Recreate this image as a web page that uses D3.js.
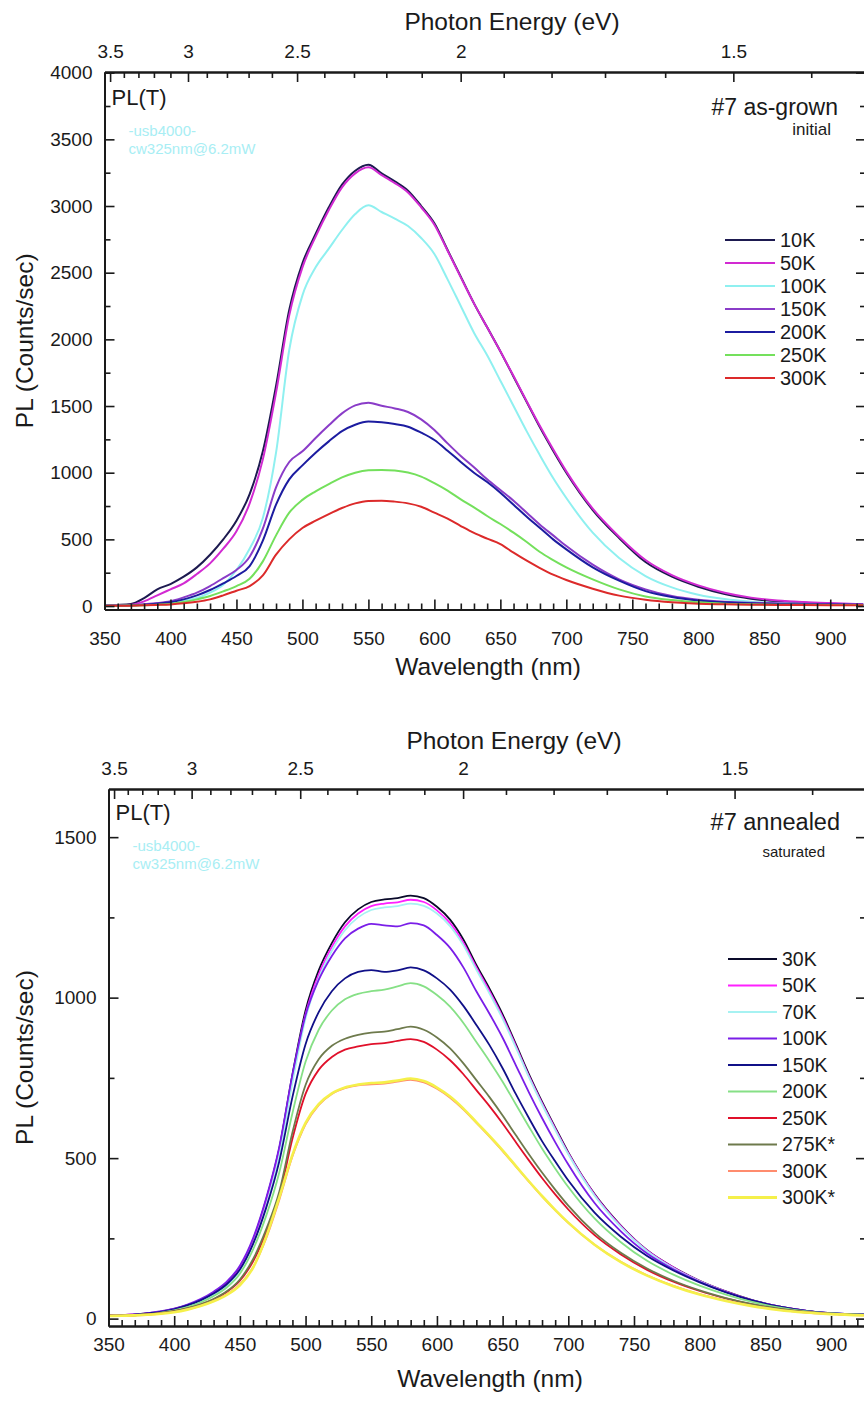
<!DOCTYPE html>
<html>
<head>
<meta charset="utf-8">
<script src="https://cdn.jsdelivr.net/npm/d3@7"></script>
<style>
  body { margin: 0; background: #fff; }
  text { font-family: "Liberation Sans", Arial, sans-serif; fill: #1a1a1a; }
</style>
</head>
<body>
<script>
// shared wavelength grid (nm)
var wavelength = [350,360,370,380,390,400,410,420,430,440,450,460,470,480,490,500,510,520,530,540,
  550,560,570,580,590,600,610,620,630,640,650,660,670,680,690,700,720,740,760,780,800,820,840,860,880,900,925];

var nmTicks = [350,400,450,500,550,600,650,700,750,800,850,900];
var energyMajor = [3.5,3,2.5,2,1.5];
var energyMinor = [3.4,3.3,3.2,3.1,2.9,2.8,2.7,2.6,2.4,2.3,2.2,2.1,1.9,1.8,1.7,1.6,1.4];

// #7 as-grown
var topLabels = ["10K","50K","100K","150K","200K","250K","300K"];
var topColors = ["#1d1a50","#d22ad2","#8ff0f0","#8a3cc8","#1c1ca0","#74e05c","#dc2a2a"];
var pl10K  = [5,8,15,60,125,165,220,290,385,500,640,840,1160,1650,2220,2570,2790,2990,3160,3265,3310,3245,3185,3115,3000,2870,2670,2470,2270,2090,1910,1720,1530,1340,1165,1000,720,510,330,220,145,90,55,35,24,16,10];
var pl50K  = [3,5,10,35,80,125,170,240,320,430,560,770,1100,1600,2180,2540,2770,2970,3140,3245,3290,3232,3172,3102,2990,2860,2665,2465,2270,2090,1910,1725,1535,1350,1175,1010,730,520,345,232,155,100,63,42,30,22,14];
var pl100K = [2,3,5,8,13,22,40,60,100,160,270,430,660,1150,1920,2330,2540,2680,2820,2940,3005,2955,2905,2850,2760,2640,2450,2250,2050,1880,1690,1500,1310,1130,960,810,550,360,225,140,85,52,33,22,15,11,8];
var pl150K = [2,4,8,14,22,36,65,100,150,210,270,370,580,890,1080,1160,1260,1355,1445,1505,1525,1502,1482,1455,1400,1320,1220,1125,1040,950,870,790,700,610,530,450,310,200,125,75,48,33,25,20,17,15,12];
var pl200K = [2,3,6,10,18,28,50,80,120,170,225,300,490,760,950,1055,1150,1235,1312,1360,1384,1378,1365,1345,1300,1245,1165,1080,1000,930,850,760,670,585,500,425,290,190,112,68,42,28,20,16,13,11,9];
var pl250K = [2,2,4,6,10,16,30,50,75,110,150,205,335,530,700,796,860,915,965,1000,1018,1021,1016,1001,971,921,865,800,740,675,615,550,480,405,345,290,200,125,72,45,28,18,13,10,9,8,7];
var pl300K = [1,2,3,5,8,12,20,32,50,80,115,150,230,385,500,585,640,690,735,770,788,790,783,770,745,700,655,600,548,505,465,400,340,285,235,195,130,78,47,28,17,13,10,8,7,6,5];

// #7 annealed
var botLabels = ["30K","50K","70K","100K","150K","200K","250K","275K*","300K","300K*"];
var botColors = ["#0a0a2a","#ff20ff","#a6f2f2","#7a1ee8","#101088","#86e086","#e0102a","#6e7a4c","#ff8c6e","#f5f04a"];
var b30K   = [10,11,13,17,22,30,42,58,80,110,160,245,370,530,760,960,1085,1170,1235,1275,1298,1306,1310,1318,1310,1283,1243,1182,1102,1028,948,856,762,676,596,518,388,290,213,160,118,85,58,38,25,16,12];
var b50K   = [10,11,13,16,21,29,41,56,78,107,156,240,362,520,748,948,1072,1158,1222,1262,1285,1293,1297,1305,1298,1272,1232,1172,1094,1020,940,850,756,671,592,515,386,288,212,159,117,84,57,38,25,16,12];
var b70K   = [10,11,12,15,20,27,38,53,74,102,150,232,352,508,735,935,1060,1146,1210,1250,1273,1281,1285,1293,1286,1262,1223,1164,1087,1013,934,845,752,667,588,512,383,285,210,157,116,83,56,37,24,16,12];
var b100K  = [10,11,13,17,23,31,44,61,84,115,165,250,375,535,760,945,1055,1130,1185,1215,1230,1225,1222,1232,1225,1195,1155,1095,1020,950,875,790,705,625,550,480,360,272,203,154,115,83,57,38,25,17,13];
var b150K  = [9,10,12,16,21,29,41,57,78,107,153,232,345,490,690,855,955,1020,1060,1080,1086,1080,1085,1094,1085,1060,1025,975,915,852,780,700,625,553,490,430,330,255,195,150,113,82,57,38,25,17,13];
var b200K  = [9,10,11,14,19,26,36,50,70,97,140,215,320,455,640,800,900,960,995,1012,1020,1025,1035,1045,1035,1008,972,922,862,802,738,668,598,530,468,410,312,238,180,137,103,75,52,35,23,16,12];
var b250K  = [9,9,10,13,17,23,32,44,60,83,118,178,268,382,560,700,775,815,838,848,855,858,865,871,862,838,805,762,712,662,608,550,493,438,387,340,260,200,152,115,86,63,44,30,21,15,11];
var b275Ks = [9,9,10,13,17,23,32,44,61,85,122,185,278,395,580,728,808,850,872,884,891,894,902,910,900,876,842,796,743,690,633,572,512,455,402,352,268,205,156,118,88,64,45,31,21,15,11];
var b300K  = [9,9,10,12,16,21,29,40,55,76,107,160,250,370,505,605,665,700,718,727,730,732,738,744,736,716,688,652,610,567,522,474,427,381,338,298,230,177,135,102,76,56,40,28,19,14,10];
var b300Ks = [8,9,10,12,15,20,28,39,54,74,104,158,255,378,510,610,668,702,720,729,734,736,742,748,740,720,692,655,612,569,524,476,428,382,339,299,230,176,134,101,75,55,39,27,19,14,10];

var svg = d3.select("body").append("svg")
  .attr("width", 864)
  .attr("height", 1401);

svg.append("rect").attr("width", 864).attr("height", 1401).attr("fill", "#fff");

drawPanel({
  id: "p1", left: 104.5, right: 866, top: 72, bottom: 609.5,
  xMax: 927.1, yMin: -26, yMax: 4005, yStep: 500,
  series: [pl10K, pl50K, pl100K, pl150K, pl200K, pl250K, pl300K],
  labels: topLabels, colors: topColors, width: 2,
  nmLabelY: 645, nmTitleY: 675, evLabelY: 58, evTitleY: 30,
  titleX: 488, evTitleX: 512,
  legend: { x1: 725, x2: 775, y0: 240, dy: 23, size: 20 },
  sample: "#7 as-grown", sampleX: 838, sampleY: 115, sampleSize: 23,
  note: "initial", noteX: 831, noteY: 135, noteSize: 17,
  plY: 105, cyanY: 136
});

drawPanel({
  id: "p2", left: 108.5, right: 866, top: 789, bottom: 1326,
  xMax: 926.6, yMin: -23, yMax: 1650, yStep: 500,
  series: [b30K, b50K, b70K, b100K, b150K, b200K, b250K, b275Ks, b300K, b300Ks],
  labels: botLabels, colors: botColors, width: 1.8,
  nmLabelY: 1351, nmTitleY: 1387, evLabelY: 775, evTitleY: 749,
  titleX: 490, evTitleX: 514,
  legend: { x1: 728, x2: 777, y0: 959, dy: 26.5, size: 19.5 },
  sample: "#7 annealed", sampleX: 840, sampleY: 830, sampleSize: 23.5,
  note: "saturated", noteX: 825, noteY: 857, noteSize: 15,
  plY: 820, cyanY: 851
});

function drawPanel(c) {
  var x = d3.scaleLinear().domain([350, c.xMax]).range([c.left, c.right]);
  var y = d3.scaleLinear().domain([c.yMin, c.yMax]).range([c.bottom, c.top]);

  var majorY = d3.range(0, c.yMax, c.yStep);
  var minorY = d3.range(c.yStep / 2, c.yMax, c.yStep);
  var minorNm = d3.range(350, c.xMax, 10).filter(function(d) { return d % 50 != 0; });

  svg.append("clipPath").attr("id", c.id)
    .append("rect")
    .attr("x", c.left).attr("y", c.top)
    .attr("width", c.right - c.left).attr("height", c.bottom - c.top);

  // curves
  var line = d3.line()
    .x(function(d, i) { return x(wavelength[i]); })
    .y(function(d) { return y(d); })
    .curve(d3.curveMonotoneX);

  svg.append("g").attr("clip-path", "url(#" + c.id + ")")
    .selectAll("path")
    .data(c.series)
    .enter()
    .append("path")
    .attr("d", line)
    .attr("fill", "none")
    .attr("stroke", function(d, i) { return c.colors[i]; })
    .attr("stroke-width", function(d, i) { return c.labels[i] == "300K*" ? 2.6 : c.width; })
    .attr("stroke-linejoin", "round");

  // bottom axis (wavelength)
  var gx = svg.append("g").attr("transform", "translate(0," + c.bottom + ")");
  gx.call(d3.axisBottom(x).tickValues(nmTicks).tickSizeInner(-10).tickSizeOuter(0).tickPadding(0));
  gx.append("g").call(d3.axisBottom(x).tickValues(minorNm).tickSizeInner(-6).tickSizeOuter(0).tickFormat(""));
  gx.selectAll("text").attr("dy", null).attr("y", c.nmLabelY - c.bottom);

  // top axis (photon energy)
  var gt = svg.append("g").attr("transform", "translate(0," + c.top + ")");
  gt.call(d3.axisTop(x)
    .tickValues(energyMajor.map(function(e) { return 1239.84 / e; }))
    .tickFormat(function(d, i) { return energyMajor[i]; })
    .tickSizeInner(-10).tickSizeOuter(0).tickPadding(c.top - c.evLabelY));
  gt.append("g").call(d3.axisTop(x)
    .tickValues(energyMinor.map(function(e) { return 1239.84 / e; }))
    .tickSizeInner(-6).tickSizeOuter(0).tickFormat(""));

  // left axis
  var gy = svg.append("g").attr("transform", "translate(" + c.left + ",0)");
  gy.call(d3.axisLeft(y).tickValues(majorY).tickFormat(d3.format("d")).tickSizeInner(-10).tickSizeOuter(0).tickPadding(12));
  gy.append("g").call(d3.axisLeft(y).tickValues(minorY).tickSizeInner(-6).tickSizeOuter(0).tickFormat(""));

  // right axis, ticks only
  var gr = svg.append("g").attr("transform", "translate(" + c.right + ",0)");
  gr.call(d3.axisRight(y).tickValues(majorY).tickSizeInner(-10).tickSizeOuter(0).tickFormat(""));
  gr.append("g").call(d3.axisRight(y).tickValues(minorY).tickSizeInner(-6).tickSizeOuter(0).tickFormat(""));

  svg.selectAll(".domain").attr("stroke", "#1a1a1a").attr("stroke-width", 2);
  svg.selectAll(".tick line").attr("stroke", "#1a1a1a").attr("stroke-width", 1.6);
  svg.selectAll(".tick text").style("font-size", "19px").attr("fill", "#1a1a1a")
    .style("font-family", "'Liberation Sans', Arial, sans-serif");

  // axis titles
  svg.append("text")
    .attr("x", c.titleX).attr("y", c.nmTitleY)
    .attr("text-anchor", "middle").style("font-size", "24.5px")
    .text("Wavelength (nm)");

  svg.append("text")
    .attr("x", c.evTitleX).attr("y", c.evTitleY)
    .attr("text-anchor", "middle").style("font-size", "24.5px")
    .text("Photon Energy (eV)");

  svg.append("text")
    .attr("transform", "translate(33," + ((c.top + c.bottom) / 2) + ") rotate(-90)")
    .attr("text-anchor", "middle").style("font-size", "24.5px")
    .text("PL (Counts/sec)");

  // annotations
  svg.append("text")
    .attr("x", c.left + 7).attr("y", c.plY)
    .style("font-size", "22px")
    .text("PL(T)");

  svg.append("text")
    .attr("x", c.left + 24).attr("y", c.cyanY)
    .style("font-size", "15px").style("fill", "#a8eef4")
    .text("-usb4000-");
  svg.append("text")
    .attr("x", c.left + 24).attr("y", c.cyanY + 18)
    .style("font-size", "15px").style("fill", "#a8eef4")
    .text("cw325nm@6.2mW");

  svg.append("text")
    .attr("x", c.sampleX).attr("y", c.sampleY)
    .attr("text-anchor", "end").style("font-size", c.sampleSize + "px")
    .text(c.sample);

  svg.append("text")
    .attr("x", c.noteX).attr("y", c.noteY)
    .attr("text-anchor", "end").style("font-size", c.noteSize + "px")
    .text(c.note);

  // legend
  var lg = svg.append("g");
  var rows = lg.selectAll("g")
    .data(c.labels)
    .enter()
    .append("g")
    .attr("transform", function(d, i) { return "translate(0," + (c.legend.y0 + i * c.legend.dy) + ")"; });

  rows.append("line")
    .attr("x1", c.legend.x1).attr("x2", c.legend.x2)
    .attr("stroke", function(d, i) { return c.colors[i]; })
    .attr("stroke-width", function(d) { return d == "300K*" ? 3 : 2.2; });

  rows.append("text")
    .attr("x", c.legend.x2 + 5).attr("dy", "0.35em")
    .style("font-size", c.legend.size + "px")
    .text(function(d) { return d; });
}
</script>
</body>
</html>
